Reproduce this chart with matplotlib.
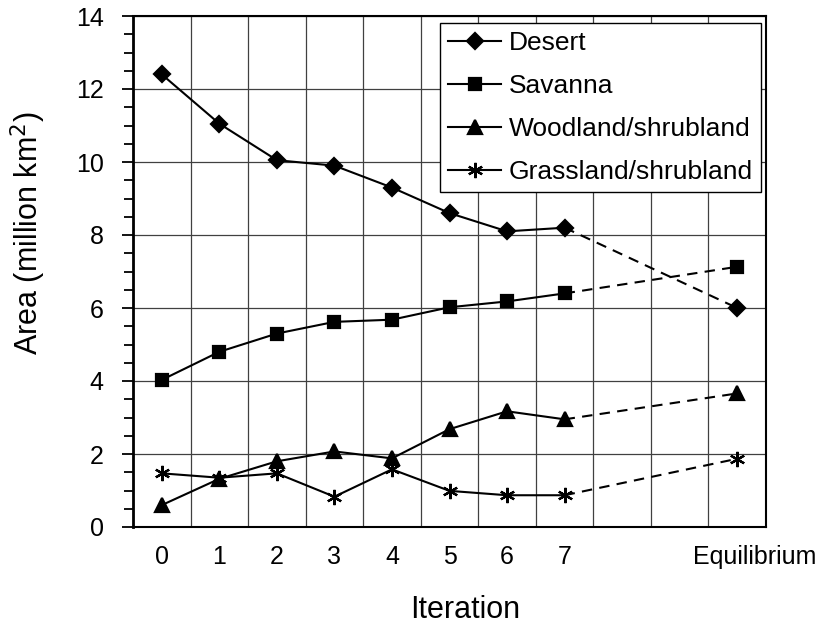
import matplotlib
matplotlib.use("Agg")
import matplotlib.pyplot as plt
from matplotlib.ticker import MultipleLocator
from matplotlib.transforms import ScaledTranslation

plt.rcParams['font.family'] = ['Liberation Sans', 'DejaVu Sans']

iterations = [0, 1, 2, 3, 4, 5, 6, 7]
eq_pos = 10
tick_labels = ["0", "1", "2", "3", "4", "5", "6", "7", "Equilibrium"]

desert = [12.4, 11.05, 10.05, 9.9, 9.3, 8.6, 8.1, 8.2]
savanna = [4.03, 4.8, 5.3, 5.62, 5.68, 6.02, 6.18, 6.4]
woodland = [0.6, 1.32, 1.8, 2.07, 1.88, 2.68, 3.17, 2.95]
grassland = [1.47, 1.35, 1.47, 0.83, 1.58, 0.99, 0.87, 0.87]

desert_eq = 6.0
savanna_eq = 7.13
woodland_eq = 3.66
grassland_eq = 1.87

series = [
    ("Desert", desert, desert_eq, "D", 8.5),
    ("Savanna", savanna, savanna_eq, "s", 8.5),
    ("Woodland/shrubland", woodland, woodland_eq, "^", 10),
    ("Grassland/shrubland", grassland, grassland_eq, (6, 2, 0), 11),
]

fig = plt.figure(figsize=(8.25, 6.25), dpi=100)
ax = fig.add_axes([0.1612, 0.1568, 0.7673, 0.8176])

for name, vals, eq, mk, ms in series:
    ax.plot(iterations, vals, color="black", lw=1.5, marker=mk, ms=ms,
            mfc="black", mec="black", mew=1.6, label=name, zorder=3)
    ax.plot([iterations[-1], eq_pos], [vals[-1], eq], color="black", lw=1.5,
            ls=(0, (5, 3.5)), zorder=3)
    ax.plot([eq_pos], [eq], color="black", marker=mk, ms=ms, mfc="black",
            mec="black", mew=1.6, ls="none", zorder=3)

ax.set_xlim(-0.5, 10.5)
ax.set_ylim(0, 14)

ax.set_xticks(iterations + [eq_pos])
ax.set_xticklabels(tick_labels)
ax.xaxis.set_minor_locator(MultipleLocator(1, offset=0.5))
ax.tick_params(axis="x", which="both", length=0, pad=13, labelsize=18)

ax.yaxis.set_major_locator(MultipleLocator(2))
ax.yaxis.set_minor_locator(MultipleLocator(0.5))
ax.tick_params(axis="y", which="major", length=8, width=1.3, pad=13, labelsize=18, direction="out")
ax.tick_params(axis="y", which="minor", length=6.5, width=1.3, direction="out")

ax.grid(True, axis="y", which="major", color="0.25", lw=0.9, zorder=0)
ax.grid(True, axis="x", which="minor", color="0.25", lw=0.9, zorder=0)

for side in ["top", "right", "bottom"]:
    ax.spines[side].set_linewidth(1.5)
ax.spines["left"].set_linewidth(2)

# Excel puts the last category label a bit to the right
eq_label = ax.get_xticklabels()[-1]
eq_label.set_transform(eq_label.get_transform() + ScaledTranslation(0.17, 0, fig.dpi_scale_trans))

ax.set_xlabel("Iteration", fontsize=22)
ax.xaxis.set_label_coords(0.525, -0.133)
ax.set_ylabel("Area (million km$^2$)", fontsize=22)
ax.yaxis.set_label_coords(-0.135, 0.575)

leg = ax.legend(loc="upper right", bbox_to_anchor=(0.992, 0.986), borderaxespad=0,
                fontsize=19, handlelength=2.0, handletextpad=0.3, labelspacing=0.72,
                borderpad=0.3, fancybox=False, framealpha=1, edgecolor="black")
leg.get_frame().set_linewidth(1.0)
leg.set_zorder(5)

fig.savefig("out.png", dpi=100)
